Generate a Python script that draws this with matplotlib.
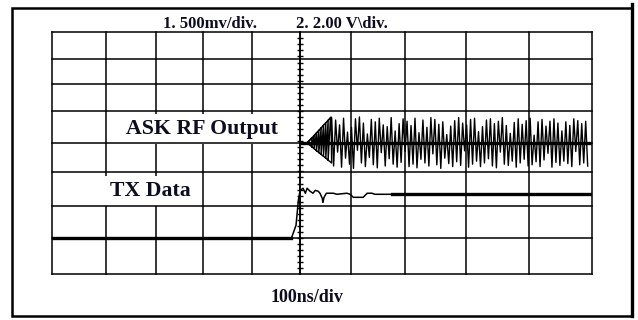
import matplotlib
matplotlib.use("Agg")
import matplotlib.pyplot as plt
import numpy as np
from matplotlib.patches import Rectangle
from matplotlib.lines import Line2D

# ---------------- data ----------------
# Channel 2 : TX Data (time in ns relative to trigger, volts)
tx_time_ns = [-425, -15, -7, -3, 0, 5, 9, 12, 17, 22, 26, 31, 34, 38, 39, 41, 45,
              57, 63, 80, 86, 91, 98, 108, 115, 123, 128, 157, 500]
tx_volts = [0.0, 0.0, 0.86, 2.51, 3.17, 3.31, 2.98, 3.31, 3.11, 2.98, 3.17, 3.11, 2.98,
            2.64, 2.38, 2.71, 2.98, 2.98, 2.91, 2.98, 2.91, 2.71, 2.71, 2.71, 2.98,
            2.98, 2.91, 2.91, 2.91]

# Channel 1 : ASK RF Output, start-up envelope (ns, mV)
rf_head_time_ns = [12, 53, 54, 12, 20, 20, 24, 24, 28, 28, 32, 32, 36, 36, 40, 40,
                   44, 44, 48, 48, 52]
rf_head_mv = [0, 430, -330, 0, 85, -65, 125, -95, 170, -130, 210, -160, 250, -190,
              295, -220, 335, -250, 375, -285, 410]

# Channel 1 : ASK RF Output, steady oscillation (mV), sampled every 3.4 ns from 54 ns
rf_start_ns = 54
rf_step_ns = 3.4
rf_mv = [420, -380, 380, -150, 300, -400, 410, -250, 180, -350, 260, -420, 400, -120,
         430, -330, 330, -390, 150, -240, 390, -360, 350, -410, 410, -160, 300, -380,
         270, -260, 420, -350, 200, -400, 320, -320, 400, -140, 360, -390, 290, -350,
         410, -410, 170, -270, 380, -330, 260, -380, 420, -180, 390, -360, 310, -420,
         350, -250, 140, -340, 280, -390, 370, -310, 420, -370, 330, -130, 300, -400,
         390, -350, 410, -300, 190, -390, 270, -330, 380, -260, 400, -380, 320, -410,
         360, -150, 420, -350, 290, -370, 160, -300, 340, -400, 400, -330, 310, -270,
         370, -380, 410, -360, 130, -310, 350, -390, 390, -280, 280, -170, 360, -400,
         400, -320, 330, -370, 200, -300, 350, -340, 290, -390, 400, -140, 370, -360,
         320, -330, 360, -380]

labels_top = ["1. 500mv/div.", "2. 2.00 V\\div."]
label_rf = "ASK RF Output"
label_tx = "TX Data"
label_time = "100ns/div"

# ---------------- scales / layout ----------------
RF_MV_PER_DIV = 500.0
TX_V_PER_DIV = 2.0
TX_OFFSET_DIV = -3.15

grid_x_ns = [-425, -332, -246, -167, -82, 0, 87, 180, 284, 392, 500]
grid_y_div = [-4.34, -3.15, -2.07, -0.95, 0.0, 1.07, 1.95, 2.78, 3.66]

W, H = 638, 320
fig = plt.figure(figsize=(W / 100, H / 100), dpi=100)
fig.patch.set_facecolor("white")
ax = fig.add_axes([52 / W, (H - 274.3) / H, 540 / W, 242 / H])
ax.set_xlim(-425, 500)
ax.set_ylim(-4.34, 3.66)
ax.axis("off")

ink = "black"
for gx in grid_x_ns:
    ax.axvline(gx, color=ink, lw=1.1, clip_on=False, zorder=1)
for gy in grid_y_div:
    ax.axhline(gy, color=ink, lw=1.1, clip_on=False, zorder=2)
# centre graticule line stays above label boxes
ax.axvline(0, color=ink, lw=1.1, clip_on=False, zorder=2)

# minor ticks on the centre graticule line
tick_y = np.arange(-4.14, 3.66, 0.2)
ax.plot(np.zeros_like(tick_y), tick_y, ls="none", marker="_", ms=5, mew=1.0,
        color=ink, clip_on=False, zorder=2)

# TX data trace
tx_t = np.array(tx_time_ns, dtype=float)
tx_y = TX_OFFSET_DIV + np.array(tx_volts) / TX_V_PER_DIV
ax.plot(tx_t, tx_y, color=ink, lw=1.1, zorder=3)
low = tx_t <= -15
high = tx_t >= 157
ax.plot(tx_t[low], tx_y[low], color=ink, lw=2.4, zorder=3)
ax.plot(tx_t[high], tx_y[high], color=ink, lw=2.4, zorder=3)

# RF trace
rf_t = rf_start_ns + rf_step_ns * np.arange(len(rf_mv))
rf_y = np.array(rf_mv) / RF_MV_PER_DIV
ax.plot(np.array(rf_head_time_ns), np.array(rf_head_mv) / RF_MV_PER_DIV,
        color=ink, lw=1.0, zorder=3)
ax.plot(np.concatenate([[rf_head_time_ns[-1]], rf_t]),
        np.concatenate([[rf_head_mv[-1] / RF_MV_PER_DIV], rf_y]),
        color=ink, lw=1.0, zorder=3)
ax.hlines(0, 0, rf_t[-1] + 5, color=ink, lw=2.4, zorder=4)

# texts
tc = "#0d0d20"
font = dict(family="Liberation Serif", weight="bold", color=tc)
box = dict(facecolor="white", edgecolor="none", pad=3.6)
fig.text(163 / W, 1 - 27.5 / H, labels_top[0], fontsize=12, va="baseline", **font)
fig.text(296 / W, 1 - 27.5 / H, labels_top[1], fontsize=12, va="baseline", **font)
ax.text(126 / W, 1 - 134 / H, label_rf, fontsize=15.7, va="baseline",
        transform=fig.transFigure, zorder=1.5, bbox=box, **font)
ax.text(110 / W, 1 - 196 / H, label_tx, fontsize=15.7, va="baseline",
        transform=fig.transFigure, zorder=1.5, bbox=box, **font)
fig.text(271 / W, 1 - 302 / H, label_time, fontsize=13, va="baseline", **font)

# outer frame
fig.add_artist(Rectangle((12 / W, 1 - 316 / H), 620 / W, 308 / H,
                         transform=fig.transFigure, fill=False, lw=1.8, ec=ink))
fig.add_artist(Line2D([632 / W, 632 / W], [1 - 4 / H, 1 - 316 / H],
                      transform=fig.transFigure, lw=2.4, color=ink))

fig.savefig("out.png", dpi=100)
